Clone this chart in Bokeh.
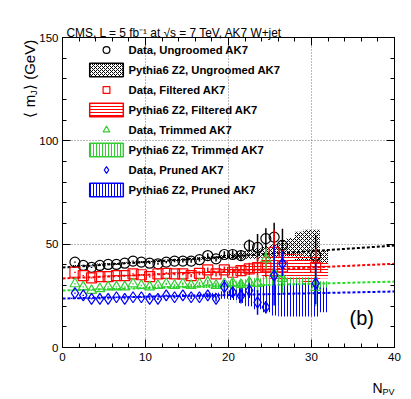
import numpy as np
from bokeh.plotting import figure
from bokeh.models import Range1d, SingleIntervalTicker, LinearAxis, Label, Legend, LegendItem
from bokeh.embed import file_html
from bokeh.resources import INLINE

FONT = "Liberation Sans"

# ---------------- data ----------------
npv_data = [1.5, 2.5, 3.5, 4.5, 5.5, 6.5, 7.5, 8.5, 9.5, 10.5,
            11.5, 12.5, 13.5, 14.5, 15.5, 16.5, 17.5, 18.5, 19.5, 20.5,
            21.5, 22.5, 23.5, 24.5, 25.5, 26.5, 30.5]

ungroomed = [41.3, 39.7, 38.8, 39.7, 40.2, 40.2, 40.8, 41.8, 41.3, 40.8,
             40.5, 41.3, 41.8, 41.8, 41.8, 42.5, 44.5, 42.9, 45.0, 45.0,
             44.5, 49.3, 48.4, 52.7, 53.4, 49.4, 44.5]
ungroomed_err = [0.3, 0.3, 0.3, 0.3, 0.3, 0.3, 0.3, 0.3, 0.4, 0.4,
                 0.5, 0.5, 0.6, 0.7, 0.8, 0.9, 1.1, 1.3, 1.6, 2.0,
                 2.5, 3.0, 6.5, 5.0, 7.0, 8.0, 10.0]

filtered = [36.4, 34.8, 33.7, 34.3, 34.3, 34.8, 34.8, 35.6, 35.2, 34.3,
            35.6, 35.9, 35.6, 35.6, 34.8, 35.9, 37.6, 35.6, 37.6, 36.4,
            37.2, 38.0, 38.7, 39.0, 46.0, 39.0, 38.8]
filtered_err = [0.3, 0.3, 0.3, 0.3, 0.3, 0.3, 0.3, 0.3, 0.4, 0.4,
                0.5, 0.5, 0.6, 0.7, 0.8, 0.9, 1.1, 1.3, 1.6, 2.0,
                2.5, 3.0, 5.0, 5.0, 11.0, 8.0, 9.0]

trimmed = [30.8, 29.3, 27.6, 28.4, 29.3, 29.3, 29.3, 30.8, 30.0, 29.3,
           30.0, 30.8, 30.0, 30.8, 30.0, 30.8, 31.6, 30.0, 30.8, 31.2,
           30.5, 31.5, 31.0, 42.9, 35.8, 33.4, 29.0]
trimmed_err = [0.3, 0.3, 0.3, 0.3, 0.3, 0.3, 0.3, 0.3, 0.4, 0.4,
               0.5, 0.5, 0.6, 0.7, 0.8, 0.9, 1.1, 1.3, 1.6, 2.0,
               2.5, 3.0, 4.0, 5.0, 9.0, 7.0, 9.0]

pruned = [26.3, 25.2, 23.5, 23.5, 23.5, 24.3, 23.5, 24.3, 24.3, 23.5,
          23.5, 25.2, 24.3, 25.2, 24.3, 24.3, 25.2, 23.5, 29.2, 26.8,
          25.0, 27.6, 21.8, 19.5, 34.8, 40.6, 31.0]
pruned_err = [0.3, 0.3, 0.3, 0.3, 0.3, 0.3, 0.3, 0.3, 0.4, 0.4,
              0.5, 0.5, 0.6, 0.7, 0.8, 0.9, 1.1, 1.3, 3.5, 2.5,
              3.7, 3.7, 6.0, 3.0, 14.5, 6.0, 10.0]

npv_mc = [1.5, 2.5, 3.5, 4.5, 5.5, 6.5, 7.5, 8.5, 9.5, 10.5,
          11.5, 12.5, 13.5, 14.5, 15.5, 16.5, 17.5, 18.5, 19.5, 20.5,
          21.5, 22.5, 23.5, 24.5, 25.5, 26.5, 27.5, 28.5, 29.5, 30.5, 31.5]

mc_ungroomed = [39.6, 39.8, 40.0, 40.3, 40.5, 40.7, 41.0, 41.2, 41.4, 41.7,
                41.9, 42.1, 42.4, 42.6, 42.8, 43.1, 43.3, 43.5, 43.8, 44.2,
                44.5, 45.0, 45.5, 46.0, 46.5, 48.0, 48.5, 49.0, 49.5, 49.0, 44.0]
mc_ungroomed_err = [0.3, 0.3, 0.3, 0.3, 0.3, 0.3, 0.3, 0.3, 0.3, 0.4,
                    0.4, 0.4, 0.5, 0.5, 0.6, 0.6, 0.7, 0.8, 1.0, 1.2,
                    1.5, 2.0, 2.5, 3.0, 3.5, 4.0, 4.5, 7.0, 7.5, 8.0, 3.0]

mc_filtered = [33.7, 33.9, 34.1, 34.3, 34.4, 34.6, 34.8, 35.0, 35.2, 35.3,
               35.5, 35.7, 35.9, 36.1, 36.2, 36.4, 36.6, 36.8, 37.0, 37.3,
               37.6, 38.0, 38.3, 38.5, 38.8, 39.0, 39.0, 38.5, 38.0, 38.5, 37.5]
mc_filtered_err = [0.3, 0.3, 0.3, 0.3, 0.3, 0.3, 0.3, 0.3, 0.3, 0.3,
                   0.4, 0.4, 0.4, 0.5, 0.5, 0.6, 0.7, 0.8, 1.0, 1.3,
                   1.6, 2.0, 2.5, 5.0, 5.5, 6.0, 6.5, 6.5, 6.5, 6.0, 4.0]

mc_trimmed = [27.8, 28.0, 28.1, 28.3, 28.4, 28.5, 28.7, 28.8, 28.9, 29.0,
              29.1, 29.2, 29.3, 29.4, 29.5, 29.6, 29.7, 29.8, 29.9, 29.5,
              29.0, 28.5, 28.0, 28.0, 27.5, 27.5, 27.0, 27.0, 27.0, 27.0, 27.0]
mc_trimmed_err = [0.3, 0.3, 0.3, 0.3, 0.3, 0.3, 0.3, 0.3, 0.3, 0.3,
                  0.4, 0.4, 0.5, 0.5, 0.6, 0.7, 0.9, 1.2, 1.8, 2.5,
                  3.5, 4.5, 5.5, 6.5, 7.0, 7.0, 7.0, 7.0, 7.0, 7.0, 5.0]

mc_pruned = [23.8, 23.9, 24.0, 24.1, 24.2, 24.3, 24.4, 24.5, 24.6, 24.7,
             24.8, 24.8, 24.9, 25.0, 25.1, 25.2, 25.3, 25.3, 25.4, 25.5,
             25.0, 24.5, 24.0, 23.5, 23.0, 23.0, 23.0, 23.0, 23.0, 23.0, 23.0]
mc_pruned_err = [0.3, 0.3, 0.3, 0.3, 0.3, 0.3, 0.3, 0.3, 0.3, 0.3,
                 0.4, 0.4, 0.5, 0.5, 0.6, 0.7, 0.9, 1.2, 1.8, 2.5,
                 3.5, 4.5, 5.5, 6.5, 7.5, 8.0, 8.0, 8.0, 8.0, 8.0, 6.0]

fit_npv = [0, 40]
fit_ungroomed = [38.7, 49.3]
fit_filtered = [33.4, 40.5]
fit_trimmed = [27.6, 31.9]
fit_pruned = [23.7, 27.1]

# ---------------- figure ----------------
p = figure(width=411, height=399, x_range=Range1d(0, 40), y_range=Range1d(0, 150),
           output_backend="svg", toolbar_location=None,
           min_border_left=62, min_border_right=17, min_border_top=37, min_border_bottom=52)
p.outline_line_color = "black"
p.outline_line_width = 1
p.background_fill_color = "white"
p.border_fill_color = "white"

def style_axis(ax, labels=True):
    ax.major_tick_in = 8
    ax.major_tick_out = 0
    ax.minor_tick_in = 4
    ax.minor_tick_out = 0
    ax.axis_line_color = "black"
    ax.major_tick_line_color = "black"
    ax.minor_tick_line_color = "black"
    ax.major_label_text_font = FONT
    ax.major_label_text_font_size = "11.5px"
    ax.major_label_text_color = "black" if labels else None
    ax.axis_label = None

xt = SingleIntervalTicker(interval=10, num_minor_ticks=5)
yt = SingleIntervalTicker(interval=50, num_minor_ticks=5)
p.xaxis.ticker = xt
p.yaxis.ticker = yt
style_axis(p.xaxis[0])
style_axis(p.yaxis[0])
p.xaxis.major_label_standoff = 5
p.yaxis.major_label_standoff = 4

top_ax = LinearAxis(ticker=SingleIntervalTicker(interval=10, num_minor_ticks=5))
right_ax = LinearAxis(ticker=SingleIntervalTicker(interval=50, num_minor_ticks=5))
style_axis(top_ax, labels=False)
style_axis(right_ax, labels=False)
p.add_layout(top_ax, "above")
p.add_layout(right_ax, "right")

p.xgrid.ticker = xt
p.ygrid.ticker = yt
p.xgrid.grid_line_color = "#777777"
p.ygrid.grid_line_color = "#777777"
p.xgrid.grid_line_dash = "1 2"
p.ygrid.grid_line_dash = "1 2"

mx = np.array(npv_mc)
dx = np.array(npv_data)

# MC bands
bands = [
    (mc_ungroomed, mc_ungroomed_err, "black", "diagonal_cross", 4),
    (mc_filtered, mc_filtered_err, "red", "horizontal_line", 3),
    (mc_trimmed, mc_trimmed_err, "#33cc33", "vertical_line", 3),
    (mc_pruned, mc_pruned_err, "blue", "vertical_line", 3),
]
leg_r = []
for vals, errs, col, pat, sc in bands:
    v = np.array(vals); e = np.array(errs)
    p.quad(left=mx - 0.5, right=mx + 0.5, bottom=v - e, top=v + e,
           fill_alpha=0, line_alpha=0, hatch_pattern=pat, hatch_color=col,
           hatch_scale=sc, hatch_weight=1)
    r = p.quad(left=mx - 0.5, right=mx + 0.5, bottom=v - e, top=v + e,
               fill_alpha=0, line_color=col, line_width=1.5, hatch_pattern=pat,
               hatch_color=col, hatch_scale=sc, hatch_weight=1, visible=False)
    leg_r.append(r)

# fit lines
for fv, col in [(fit_ungroomed, "black"), (fit_filtered, "red"),
                (fit_trimmed, "#22dd22"), (fit_pruned, "blue")]:
    p.line(fit_npv, fv, line_color=col, line_width=2, line_dash="3 2")

# data
data_sets = [
    (ungroomed, ungroomed_err, "black", "circle", 10),
    (filtered, filtered_err, "red", "square", 10),
    (trimmed, trimmed_err, "#33cc33", "triangle", 10),
    (pruned, pruned_err, "blue", "diamond", 11),
]
data_r = []
for vals, errs, col, mk, sz in data_sets:
    v = np.array(vals); e = np.array(errs)
    p.segment(x0=dx, y0=v - e, x1=dx, y1=v + e, line_color=col, line_width=1.5)
    r = p.scatter(dx, v, marker=mk, size=sz, fill_alpha=0, line_color=col, line_width=1.2)
    data_r.append(r)

labels = [("Data, Ungroomed AK7", data_r[0]), ("Pythia6 Z2, Ungroomed AK7", leg_r[0]),
          ("Data, Filtered AK7", data_r[1]), ("Pythia6 Z2, Filtered AK7", leg_r[1]),
          ("Data, Trimmed AK7", data_r[2]), ("Pythia6 Z2, Trimmed AK7", leg_r[2]),
          ("Data, Pruned AK7", data_r[3]), ("Pythia6 Z2, Pruned AK7", leg_r[3])]
legend = Legend(items=[LegendItem(label=t, renderers=[r]) for t, r in labels],
                location=(22.5, 149), margin=0, padding=0, spacing=3,
                glyph_width=42, glyph_height=17, label_height=17, label_standoff=2,
                label_text_font=FONT, label_text_font_style="bold",
                label_text_font_size="11.3px", label_text_color="black",
                background_fill_alpha=0, border_line_alpha=0, click_policy="none")
p.add_layout(legend, "center")

# ---------------- texts (canvas pixel coordinates) ----------------
def add_label(text, px, py, size, place, angle=0, style="normal"):
    p.add_layout(Label(x=px, y=py, x_units="canvas", y_units="canvas", text=text,
                       text_font=FONT, text_font_size=size, text_font_style=style,
                       angle=angle, text_align="left", text_baseline="alphabetic",
                       text_color="black"), place)

add_label("CMS, L = 5 fb\u207b\u00b9 at \u221as = 7 TeV, AK7 W+jet", 66, 32, "11.9px", "above")
add_label("\u27e8 m", 29, 117, "15px", "above", angle=np.pi / 2)
add_label("J", 32.5, 94.5, "9.5px", "left", angle=np.pi / 2)
add_label("\u27e9  (GeV)", 29, 89.5, "15px", "left", angle=np.pi / 2)
add_label("N", 372, 387, "14px", "below")
add_label("PV", 382, 391, "9px", "below")

p.add_layout(Label(x=349, y=328, x_units="canvas", y_units="canvas", text="(b)",
                   text_font=FONT, text_font_size="20px", text_color="black"))

open("out.html", "w").write(file_html(p, INLINE))
